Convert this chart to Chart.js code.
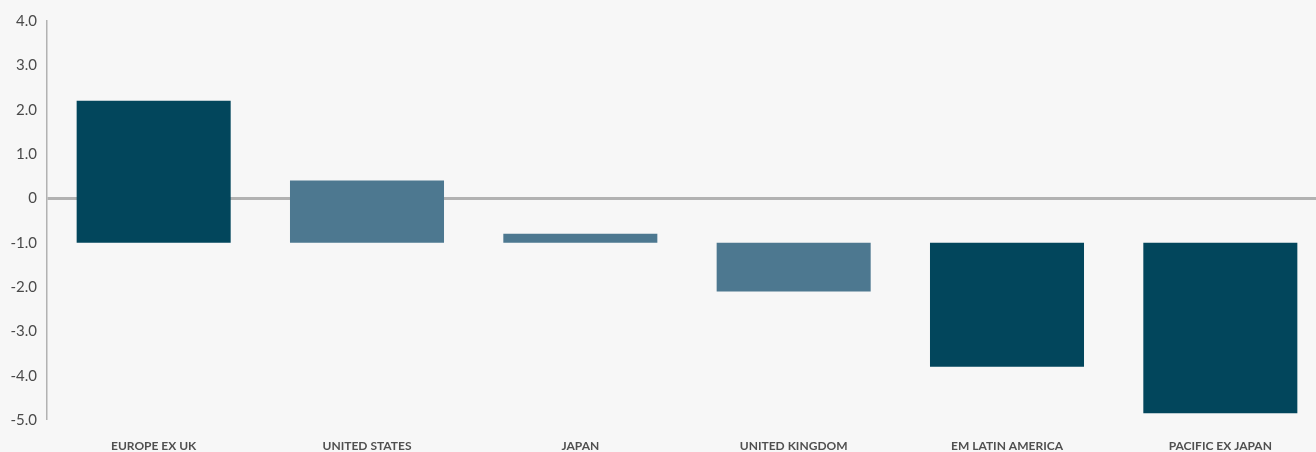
<!DOCTYPE html>
<html>
<head>
<meta charset="utf-8">
<script src="https://cdn.jsdelivr.net/npm/chart.js@4/dist/chart.umd.min.js"></script>
<style>
  html, body { margin: 0; padding: 0; background: #f7f7f7; overflow: hidden; }
  #wrap { width: 1327px; height: 452px; }
</style>
</head>
<body>
<div id="wrap"><canvas id="chart" width="1327" height="452"></canvas></div>
<script>
// Regions along the x axis
const categories = ['EUROPE EX UK', 'UNITED STATES', 'JAPAN', 'UNITED KINGDOM', 'EM LATIN AMERICA', 'PACIFIC EX JAPAN'];
// Each bar floats from a common start level to its end value
const startValues = [-1.0, -1.0, -1.0, -1.0, -1.0, -1.0];
const endValues = [2.2, 0.4, -0.8, -2.1, -3.8, -4.85];
// Dark for the outer groups, light for the middle three
const barColors = ['#02465c', '#4d7890', '#4d7890', '#4d7890', '#02465c', '#02465c'];
// Y axis range and step
const yMin = -5, yMax = 4, yStep = 1;

const FONT = "Lato, 'Open Sans', 'Liberation Sans', sans-serif";

new Chart(document.getElementById('chart'), {
  type: 'bar',
  data: {
    labels: categories,
    datasets: [{
      data: categories.map((_, i) => [startValues[i], endValues[i]]),
      backgroundColor: barColors,
      borderWidth: 0,
      barPercentage: 0.722,
      categoryPercentage: 1.0
    }]
  },
  options: {
    responsive: false,
    animation: false,
    layout: { padding: { top: 21, right: 0, bottom: 0, left: 0 } },
    plugins: { legend: { display: false }, tooltip: { enabled: false } },
    scales: {
      x: {
        grid: { display: false, drawTicks: false },
        border: { display: false },
        ticks: {
          padding: 19,
          maxRotation: 0,
          autoSkip: false,
          color: '#505050',
          font: { family: FONT, size: 12, weight: 'bold' }
        },
        afterFit: s => { s.height = 32; }
      },
      y: {
        min: yMin,
        max: yMax,
        grid: {
          drawTicks: false,
          color: ctx => (ctx.tick && ctx.tick.value === 0 ? '#b2b2b2' : 'rgba(0,0,0,0)'),
          lineWidth: ctx => (ctx.tick && ctx.tick.value === 0 ? 3 : 0)
        },
        border: { display: true, color: '#b2b2b2', width: 1.5 },
        ticks: {
          stepSize: yStep,
          padding: 10,
          color: '#4a4a4a',
          font: { family: FONT, size: 15 },
          callback: v => (v === 0 ? '0' : Number(v).toFixed(1))
        },
        afterFit: s => { s.width = 47; }
      }
    }
  }
});
</script>
</body>
</html>
